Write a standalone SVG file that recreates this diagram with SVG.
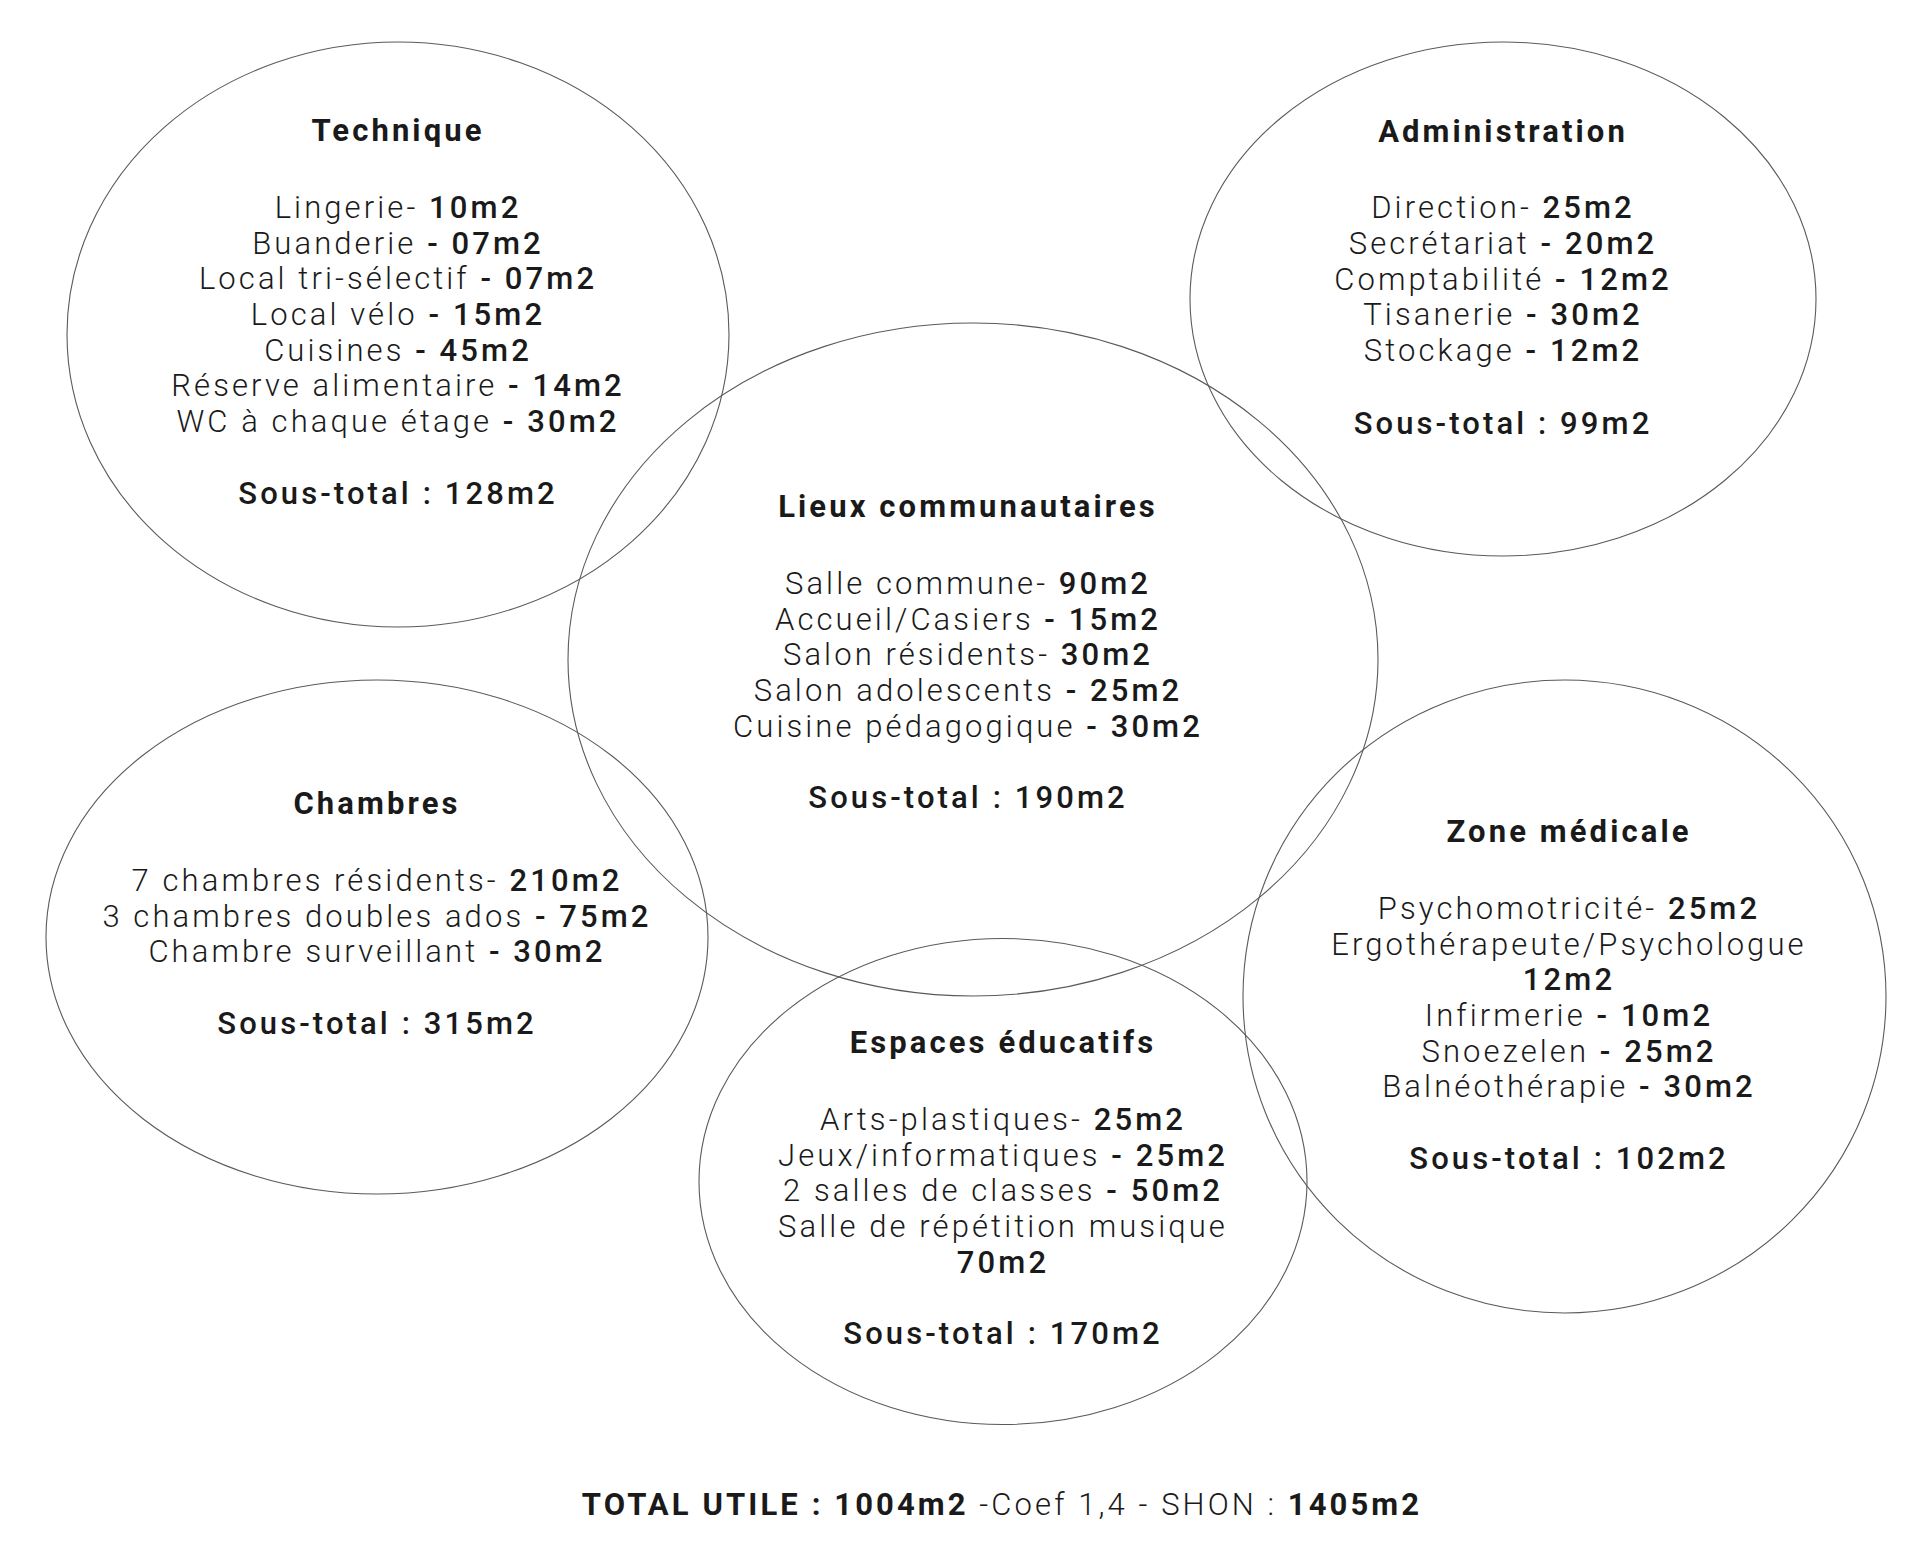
<svg xmlns="http://www.w3.org/2000/svg" width="1920" height="1542" viewBox="0 0 1920 1542">
<style>
.bubble{fill:none;stroke:#5a5a5a;stroke-width:1.1}
text{font-family:Roboto,"Liberation Sans",Arial,sans-serif;font-size:31px;letter-spacing:3.1px;fill:#1a1a1a;text-anchor:middle}
.h{font-weight:700}
.l{font-weight:300}
.m{font-weight:500}
.b{font-weight:700}
</style>
<rect width="1920" height="1542" fill="#fff"/>
<g id="connectors"></g>
<g id="technique">
<ellipse class="bubble" cx="398" cy="334.5" rx="331" ry="292.5"/>
<text class="h" x="398" y="141">Technique</text>
<text class="l" x="398" y="218">Lingerie- <tspan class="m">10m2</tspan></text>
<text class="l" x="398" y="254">Buanderie <tspan class="m">- 07m2</tspan></text>
<text class="l" x="398" y="289">Local tri-sélectif <tspan class="m">- 07m2</tspan></text>
<text class="l" x="398" y="325">Local vélo <tspan class="m">- 15m2</tspan></text>
<text class="l" x="398" y="361">Cuisines <tspan class="m">- 45m2</tspan></text>
<text class="l" x="398" y="396">Réserve alimentaire <tspan class="m">- 14m2</tspan></text>
<text class="l" x="398" y="432">WC à chaque étage <tspan class="m">- 30m2</tspan></text>
<text class="m" x="398" y="504">Sous-total : 128m2</text>
</g>
<g id="administration">
<ellipse class="bubble" cx="1503" cy="299" rx="313" ry="257"/>
<text class="h" x="1503" y="142">Administration</text>
<text class="l" x="1503" y="218">Direction- <tspan class="m">25m2</tspan></text>
<text class="l" x="1503" y="254">Secrétariat <tspan class="m">- 20m2</tspan></text>
<text class="l" x="1503" y="290">Comptabilité <tspan class="m">- 12m2</tspan></text>
<text class="l" x="1503" y="325">Tisanerie <tspan class="m">- 30m2</tspan></text>
<text class="l" x="1503" y="361">Stockage <tspan class="m">- 12m2</tspan></text>
<text class="m" x="1503" y="434">Sous-total : 99m2</text>
</g>
<g id="lieux-communautaires">
<ellipse class="bubble" cx="973" cy="659.5" rx="405" ry="336.5"/>
<text class="h" x="968" y="517">Lieux communautaires</text>
<text class="l" x="968" y="594">Salle commune- <tspan class="m">90m2</tspan></text>
<text class="l" x="968" y="630">Accueil/Casiers <tspan class="m">- 15m2</tspan></text>
<text class="l" x="968" y="665">Salon résidents- <tspan class="m">30m2</tspan></text>
<text class="l" x="968" y="701">Salon adolescents <tspan class="m">- 25m2</tspan></text>
<text class="l" x="968" y="737">Cuisine pédagogique <tspan class="m">- 30m2</tspan></text>
<text class="m" x="968" y="808">Sous-total : 190m2</text>
</g>
<g id="chambres">
<ellipse class="bubble" cx="377" cy="937" rx="331" ry="257"/>
<text class="h" x="377" y="814">Chambres</text>
<text class="l" x="377" y="891">7 chambres résidents- <tspan class="m">210m2</tspan></text>
<text class="l" x="377" y="927">3 chambres doubles ados <tspan class="m">- 75m2</tspan></text>
<text class="l" x="377" y="962">Chambre surveillant <tspan class="m">- 30m2</tspan></text>
<text class="m" x="377" y="1034">Sous-total : 315m2</text>
</g>
<g id="zone-medicale">
<ellipse class="bubble" cx="1564.5" cy="996.5" rx="321.5" ry="316.5"/>
<text class="h" x="1569" y="842">Zone médicale</text>
<text class="l" x="1569" y="919">Psychomotricité- <tspan class="m">25m2</tspan></text>
<text class="l" x="1569" y="955">Ergothérapeute/Psychologue</text>
<text class="m" x="1569" y="990">12m2</text>
<text class="l" x="1569" y="1026">Infirmerie <tspan class="m">- 10m2</tspan></text>
<text class="l" x="1569" y="1062">Snoezelen <tspan class="m">- 25m2</tspan></text>
<text class="l" x="1569" y="1097">Balnéothérapie <tspan class="m">- 30m2</tspan></text>
<text class="m" x="1569" y="1169">Sous-total : 102m2</text>
</g>
<g id="espaces-educatifs">
<ellipse class="bubble" cx="1003" cy="1181.5" rx="304" ry="243"/>
<text class="h" x="1003" y="1053">Espaces éducatifs</text>
<text class="l" x="1003" y="1130">Arts-plastiques- <tspan class="m">25m2</tspan></text>
<text class="l" x="1003" y="1166">Jeux/informatiques <tspan class="m">- 25m2</tspan></text>
<text class="l" x="1003" y="1201">2 salles de classes <tspan class="m">- 50m2</tspan></text>
<text class="l" x="1003" y="1237">Salle de répétition musique</text>
<text class="m" x="1003" y="1273">70m2</text>
<text class="m" x="1003" y="1344">Sous-total : 170m2</text>
</g>
<g id="total">
<text class="l" x="1002" y="1515"><tspan class="b">TOTAL UTILE : 1004m2</tspan> -Coef 1,4 - SHON : <tspan class="b">1405m2</tspan></text>
</g>
</svg>
